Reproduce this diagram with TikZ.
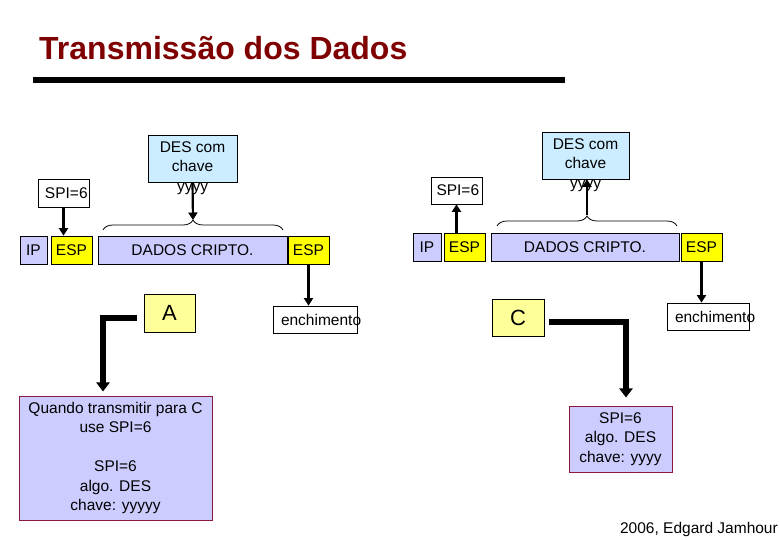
\documentclass[tikz,border=0pt]{standalone}
\usepackage{fontspec}
\setmainfont{Liberation Sans}
\usetikzlibrary{arrows.meta,decorations.pathreplacing,calc}
\definecolor{lav}{HTML}{CCCCFF}
\definecolor{yel}{HTML}{FFFF00}
\definecolor{lyel}{HTML}{FFFF99}
\definecolor{desblue}{HTML}{CCECFF}
\definecolor{titlered}{HTML}{7F0000}
\definecolor{qborder}{HTML}{8B1A3A}
\begin{document}
\begin{tikzpicture}[x=1pt,y=-1pt,
  font=\fontsize{15.5}{19.5}\selectfont,
  box/.style={draw=black, line width=0.7pt, inner sep=0pt, minimum height=28pt},
  lavbox/.style={box, fill=lav},
  yelbox/.style={box, fill=yel},
  wbox/.style={box, fill=white, minimum height=27pt},
  desbox/.style={draw=black, line width=0.7pt, fill=desblue, inner sep=0pt, minimum width=89pt, minimum height=47pt},
  letterbox/.style={draw=black, line width=0.7pt, fill=lyel, inner sep=0pt, font=\fontsize{22}{26}\selectfont},
  infobox/.style={draw=qborder, line width=1pt, fill=lav, inner sep=0pt, align=center},
  thinarrow/.style={line width=2.2pt, -{Triangle[length=7.5pt,width=9pt]}},
  thickarrow/.style={line width=5.5pt, -{Triangle[length=9pt,width=13pt]}},
  bracestyle/.style={line width=0.8pt, decorate, decoration={brace, amplitude=10pt}}
]
\useasboundingbox (0,0) rectangle (780,540);

% title
\node[anchor=base west, inner sep=0pt, text=titlered, font=\fontsize{32}{36}\selectfont\bfseries] (title) at (39,60) {Transmissão dos Dados};
\draw[line width=6pt] (33,80) -- (565,80);

% left packet
\node[lavbox, minimum width=27pt] (ip1) at (33.5,250) {IP};
\node[yelbox, minimum width=41pt] (esp1a) at (71.5,250) {ESP};
\node[lavbox, minimum width=189pt] (dados1) at (192.5,250) {DADOS CRIPTO.};
\node[yelbox, minimum width=41pt] (esp1b) at (308.5,250) {ESP};
\node[wbox, minimum width=51pt, minimum height=28pt] (spi1) at (63.5,193) {\makebox[37pt][l]{SPI=6}};
\node[desbox] (des1) at (192.5,158.5) {};
\node[align=center, inner sep=0pt] (des1t) at (192.5,168) {DES com\\chave\\yyyy};
\draw[bracestyle] (103,230) -- (283,230);
\coordinate (b1tip) at (193,220);
\node[wbox, minimum width=84pt] (ench1) at (315,319.5) {\makebox[68pt][l]{enchimento}};
\node[letterbox, minimum width=51pt, minimum height=38pt] (A) at (169.5,313) {A};
\node[infobox, minimum width=193pt, minimum height=124pt] (q1) at (115.5,458)
  {Quando transmitir para C\\use SPI=6\\[19.5pt]SPI=6\\algo. DES\\chave: yyyyy};

% right packet
\node[lavbox, minimum width=28pt] (ip2) at (427,247) {IP};
\node[yelbox, minimum width=41pt] (esp2a) at (464.5,247) {ESP};
\node[lavbox, minimum width=188pt] (dados2) at (585,247) {DADOS CRIPTO.};
\node[yelbox, minimum width=41pt] (esp2b) at (701.5,247) {ESP};
\node[wbox, minimum width=51pt] (spi2) at (456.5,190.5) {\makebox[40pt][l]{SPI=6}};
\node[desbox, minimum width=87pt] (des2) at (585.5,155.5) {};
\node[align=center, inner sep=0pt] (des2t) at (585.5,165) {DES com\\chave\\yyyy};
\draw[bracestyle] (497,226) -- (677,226);
\coordinate (b2tip) at (587,215);
\node[wbox, minimum width=82pt] (ench2) at (708,316.5) {\makebox[66pt][l]{enchimento}};
\node[letterbox, minimum width=52pt, minimum height=37pt] (C) at (518,317.5) {C};
\node[infobox, minimum width=103pt, minimum height=66pt] (s2) at (620.5,439)
  {SPI=6\\algo. DES\\chave: yyyy};

% connectors
\draw[thinarrow] (spi1.south) -- (spi1.south |- esp1a.north);
\draw[thinarrow] (des1.south) -- (b1tip);
\draw[thinarrow] (esp1b.south) -- (esp1b.south |- ench1.north);
\draw[thickarrow] ($(A.west)+(-7,5)$) -| ($(q1.north)+(-12.5,-4)$);

\draw[thinarrow] (spi2.south |- esp2a.north) -- (spi2.south);
\draw[thinarrow] (b2tip) -- (b2tip |- des2.south);
\draw[thinarrow] (esp2b.south) -- (esp2b.south |- ench2.north);
\draw[thickarrow] ($(C.east)+(5,4.5)$) -| ($(s2.north)+(5.5,-8)$);

% credit
\node[anchor=base east, inner sep=0pt] (credit) at (778,533) {2006, Edgard Jamhour};
\end{tikzpicture}
\end{document}
